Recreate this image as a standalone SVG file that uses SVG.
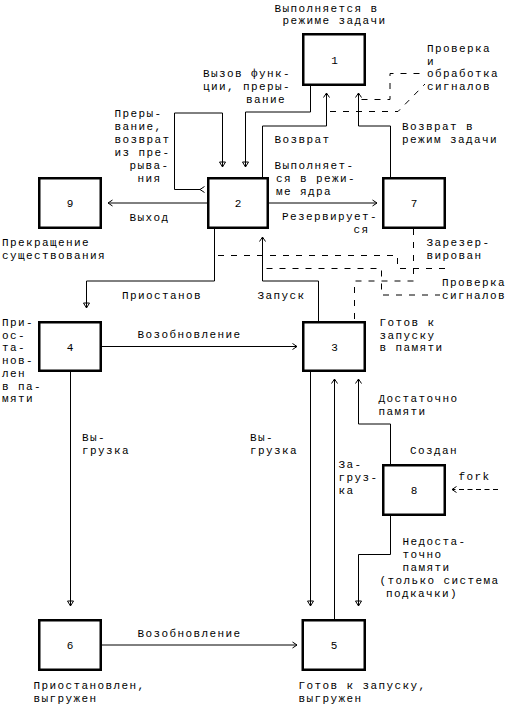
<svg xmlns="http://www.w3.org/2000/svg" width="511" height="707" viewBox="0 0 511 707">
<style>
  text { font-family: "Liberation Mono", "DejaVu Sans Mono", monospace; font-size: 11px; letter-spacing: 1.4px; fill: #000; }
  .num { text-anchor: middle; }
  .box { fill: #fff; stroke: #000; stroke-width: 2.5; }
  .conn { fill: none; stroke: #000; stroke-width: 1; }
  .dash { fill: none; stroke: #000; stroke-width: 1; stroke-dasharray: 6 7; }
  .fork { fill: none; stroke: #000; stroke-width: 1; stroke-dasharray: 5 3.5; }
</style>
<defs>
  <marker id="open" markerUnits="userSpaceOnUse" markerWidth="10" markerHeight="10" viewBox="-6 -5 8 10" refX="0" refY="0" orient="auto">
    <path d="M-4.5,-3 L0,0 L-4.5,3" fill="none" stroke="#000" stroke-width="1"/>
  </marker>
  <marker id="tri" markerUnits="userSpaceOnUse" markerWidth="10" markerHeight="10" viewBox="-6 -5 8 10" refX="0" refY="0" orient="auto">
    <path d="M-5,-3 L0,0 L-5,3 Z" fill="none" stroke="#000" stroke-width="1"/>
  </marker>
</defs>
<rect width="511" height="707" fill="#fff"/>

<g id="connectors">
  <path id="e1-2" class="conn" d="M310.5,86 V112 H245.5 V167" marker-end="url(#tri)"/>
  <path id="e2-2" class="conn" d="M200,189.5 H174.5 V113 H222.5 V167" marker-start="url(#open)" marker-end="url(#tri)"/>
  <path id="e2-1" class="conn" d="M262.5,177 V126 H326.5 V93" marker-end="url(#open)"/>
  <path id="e7-1" class="conn" d="M390.5,177 V126 H358.5 V93" marker-end="url(#open)"/>
  <path id="sig1" class="dash" d="M361.5,99.5 H390 V73.5 H424"/>
  <path id="sig2" class="dash" d="M330,111.5 H398 L425,84"/>
  <path id="e2-9" class="conn" d="M207,203 H108" marker-end="url(#open)"/>
  <path id="e2-7" class="conn" d="M269,203 H377" marker-end="url(#open)"/>
  <path id="e2-4" class="conn" d="M214.5,229 V281 H86.5 V308" marker-end="url(#tri)"/>
  <path id="e3-2" class="conn" d="M318.5,321 V281 H262.5 V237" marker-end="url(#open)"/>
  <path id="e7-3" class="dash" d="M413.5,229 V281 H354.5 V321"/>
  <path id="sig3" class="dash" d="M218,255.5 H397.5 V268.5 H445.5 V272"/>
  <path id="sig4" class="dash" d="M266.5,268.5 H381.5 V295 H440"/>
  <path id="e4-3" class="conn" d="M102,346.5 H297" marker-end="url(#open)"/>
  <path id="e4-6" class="conn" d="M70.5,372 V606" marker-end="url(#tri)"/>
  <path id="e3-5" class="conn" d="M310.5,372 V606" marker-end="url(#tri)"/>
  <path id="e5-3" class="conn" d="M334.5,619 V379" marker-end="url(#open)"/>
  <path id="e8-3" class="conn" d="M390.5,464 V424 H358.5 V379" marker-end="url(#open)"/>
  <path id="e8-5" class="conn" d="M390.5,516 V554.5 H358.5 V606" marker-end="url(#tri)"/>
  <path id="e6-5" class="conn" d="M102,645 H297" marker-end="url(#open)"/>
  <path id="fork" class="fork" d="M498,489.5 H452" marker-end="url(#open)"/>
</g>

<g id="connector-labels">
  <text x="203" y="77">Вызов функ-</text>
  <text x="203" y="90">ции, преры-</text>
  <text x="246" y="103">вание</text>
  <text x="114.5" y="117">Преры-</text>
  <text x="114.5" y="130">вание,</text>
  <text x="114.5" y="143">возврат</text>
  <text x="114.5" y="156">из пре-</text>
  <text x="129.5" y="169">рыва-</text>
  <text x="137.5" y="182">ния</text>
  <text x="274.5" y="143">Возврат</text>
  <text x="402" y="130">Возврат в</text>
  <text x="402" y="143">режим задачи</text>
  <text x="427" y="52">Проверка</text>
  <text x="427" y="64.5">и</text>
  <text x="427" y="77">обработка</text>
  <text x="427" y="90">сигналов</text>
  <text x="129.5" y="221">Выход</text>
  <text x="282" y="220">Резервирует-</text>
  <text x="353.5" y="233">ся</text>
  <text x="442" y="286">Проверка</text>
  <text x="442" y="299">сигналов</text>
  <text x="122" y="299">Приостанов</text>
  <text x="257.5" y="299">Запуск</text>
  <text x="137.5" y="338">Возобновление</text>
  <text x="82" y="441">Вы-</text>
  <text x="82" y="454">грузка</text>
  <text x="250" y="441">Вы-</text>
  <text x="250" y="454">грузка</text>
  <text x="378.5" y="402">Достаточно</text>
  <text x="378.5" y="415">памяти</text>
  <text x="338.5" y="467.5">За-</text>
  <text x="338.5" y="480.5">груз-</text>
  <text x="338.5" y="493.5">ка</text>
  <text x="458.5" y="480">fork</text>
  <text x="402.5" y="545">Недоста-</text>
  <text x="402.5" y="558">точно</text>
  <text x="402.5" y="571">памяти</text>
  <text x="379.5" y="584">(только система</text>
  <text x="386" y="597">подкачки)</text>
  <text x="137.5" y="637">Возобновление</text>
</g>

<g id="n1">
  <rect class="box" x="303.25" y="34.25" width="61.5" height="50.5"/>
  <text class="num" x="335.2" y="64">1</text>
  <text x="274.5" y="11.5">Выполняется в</text>
  <text x="282.5" y="24">режиме задачи</text>
</g>
<g id="n2">
  <rect class="box" x="208.25" y="178.25" width="59.5" height="49.5"/>
  <text class="num" x="238.7" y="207">2</text>
  <text x="274.5" y="169">Выполняет-</text>
  <text x="276" y="182">ся в режи-</text>
  <text x="276" y="195">ме ядра</text>
</g>
<g id="n9">
  <rect class="box" x="39.25" y="178.25" width="61.5" height="49.5"/>
  <text class="num" x="70.7" y="207">9</text>
  <text x="2" y="246">Прекращение</text>
  <text x="2" y="259">существования</text>
</g>
<g id="n7">
  <rect class="box" x="383.25" y="178.25" width="61.5" height="49.5"/>
  <text class="num" x="414.7" y="207">7</text>
  <text x="426.5" y="246">Зарезер-</text>
  <text x="426.5" y="259">вирован</text>
</g>
<g id="n4">
  <rect class="box" x="39.25" y="322.25" width="61.5" height="48.5"/>
  <text class="num" x="70.7" y="350.5">4</text>
  <text x="2" y="326">При-</text>
  <text x="2" y="338.7">ос-</text>
  <text x="2" y="351.4">та-</text>
  <text x="2" y="364.1">нов-</text>
  <text x="2" y="376.8">лен</text>
  <text x="2" y="389.5">в па-</text>
  <text x="2" y="402.2">мяти</text>
</g>
<g id="n3">
  <rect class="box" x="303.25" y="322.25" width="61.5" height="48.5"/>
  <text class="num" x="335.2" y="350.5">3</text>
  <text x="379.5" y="326">Готов к</text>
  <text x="379.5" y="338.7">запуску</text>
  <text x="379.5" y="351.4">в памяти</text>
</g>
<g id="n8">
  <rect class="box" x="383.25" y="465.25" width="61.5" height="49.5"/>
  <text class="num" x="414.7" y="494">8</text>
  <text x="410" y="454">Создан</text>
</g>
<g id="n6">
  <rect class="box" x="39.25" y="620.25" width="61.5" height="49.5"/>
  <text class="num" x="70.7" y="649">6</text>
  <text x="33.5" y="689">Приостановлен,</text>
  <text x="33.5" y="702">выгружен</text>
</g>
<g id="n5">
  <rect class="box" x="302.75" y="620.25" width="62" height="49.5"/>
  <text class="num" x="334.7" y="649">5</text>
  <text x="298.5" y="689">Готов к запуску,</text>
  <text x="298.5" y="702">выгружен</text>
</g>
</svg>
